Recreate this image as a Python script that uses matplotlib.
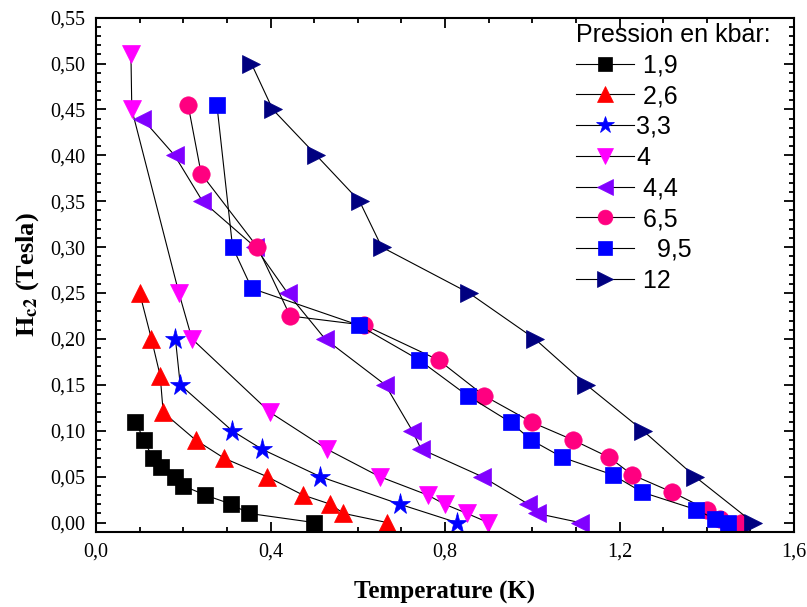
import matplotlib
matplotlib.use("Agg")
import matplotlib.pyplot as plt
import matplotlib.ticker as ticker

# Hc2 vs temperature, one curve per pressure (kbar)
T_19 = [0.09, 0.11, 0.13, 0.15, 0.18, 0.20, 0.25, 0.31, 0.35, 0.50]
H_19 = [0.11, 0.09, 0.07, 0.06, 0.05, 0.04, 0.03, 0.02, 0.01, 0.00]

T_26 = [0.100, 0.127, 0.147, 0.154, 0.228, 0.294, 0.392, 0.474, 0.537, 0.567, 0.667]
H_26 = [0.25, 0.20, 0.16, 0.12, 0.09, 0.07, 0.05, 0.03, 0.02, 0.01, 0.00]

T_33 = [0.182, 0.193, 0.312, 0.380, 0.514, 0.696, 0.827]
H_33 = [0.20, 0.15, 0.10, 0.08, 0.05, 0.02, 0.00]

T_4 = [0.080, 0.082, 0.190, 0.220, 0.399, 0.529, 0.650, 0.760, 0.799, 0.850, 0.899]
H_4 = [0.51, 0.45, 0.25, 0.20, 0.12, 0.08, 0.05, 0.03, 0.02, 0.01, 0.00]

T_44 = [0.106, 0.180, 0.244, 0.365, 0.439, 0.525, 0.663, 0.725, 0.745, 0.885, 0.991, 1.010, 1.109]
H_44 = [0.44, 0.40, 0.35, 0.30, 0.25, 0.20, 0.15, 0.10, 0.08, 0.05, 0.02, 0.01, 0.00]

T_65 = [0.211, 0.241, 0.370, 0.445, 0.615, 0.785, 0.890, 1.000, 1.093, 1.176,
        1.229, 1.321, 1.401, 1.430, 1.478]
H_65 = [0.455, 0.38, 0.30, 0.225, 0.215, 0.177, 0.138, 0.109, 0.090, 0.071,
        0.052, 0.033, 0.014, 0.004, 0.00]

T_95 = [0.277, 0.313, 0.357, 0.602, 0.741, 0.852, 0.951, 0.997, 1.069, 1.184,
        1.252, 1.376, 1.418, 1.449]
H_95 = [0.455, 0.30, 0.255, 0.215, 0.177, 0.138, 0.109, 0.090, 0.071, 0.052,
        0.033, 0.014, 0.004, 0.00]

T_12 = [0.356, 0.405, 0.505, 0.604, 0.655, 0.855, 1.006, 1.124, 1.254, 1.373, 1.506]
H_12 = [0.50, 0.45, 0.40, 0.35, 0.30, 0.25, 0.20, 0.15, 0.10, 0.05, 0.00]

LABELS = [" 1,9", " 2,6", "3,3", "4", " 4,4", " 6,5", "   9,5", " 12"]

SERIES = [
    (T_19, H_19, "s", "#000000", 11.5),
    (T_26, H_26, "^", "#FF0000", 13.5),
    (T_33, H_33, "*", "#0000FF", 15.5),
    (T_4, H_4, "v", "#FF00FF", 13.5),
    (T_44, H_44, "<", "#8000FF", 13.5),
    (T_65, H_65, "o", "#FF0080", 12.5),
    (T_95, H_95, "s", "#0000FF", 11.5),
    (T_12, H_12, ">", "#000080", 13.5),
]

plt.rcParams["mathtext.fontset"] = "stix"

fig = plt.figure(figsize=(8.07, 6.07), dpi=100)
ax = fig.add_axes([0.119, 0.124, 0.865, 0.847])

for (t, h, mk, col, ms), lab in zip(SERIES, LABELS):
    ax.plot(t, h, color="black", linewidth=0.8, marker=mk, markersize=ms,
            markerfacecolor=col, markeredgecolor=col, markeredgewidth=0.5,
            label=lab)

ax.set_xlim(0, 1.6)
ax.set_ylim(-0.01, 0.55)
ax.xaxis.set_major_locator(ticker.MultipleLocator(0.4))
ax.xaxis.set_minor_locator(ticker.MultipleLocator(0.1))
ax.yaxis.set_major_locator(ticker.MultipleLocator(0.05))
ax.yaxis.set_minor_locator(ticker.MultipleLocator(0.01))
ax.xaxis.set_major_formatter(ticker.FuncFormatter(lambda v, _: f"{v:.1f}".replace(".", ",")))
ax.yaxis.set_major_formatter(ticker.FuncFormatter(lambda v, _: f"{v:.2f}".replace(".", ",")))

for s in ax.spines.values():
    s.set_linewidth(1.5)
ax.tick_params(which="both", direction="in", top=True, right=True, width=1.3)
ax.tick_params(which="major", length=7, labelsize=14.5, pad=8)
ax.tick_params(which="minor", length=3.5)
for lbl in ax.get_xticklabels() + ax.get_yticklabels():
    lbl.set_fontfamily("Liberation Serif")

ax.set_xlabel("Temperature (K)", fontsize=18, fontweight="bold",
              family="Liberation Serif", labelpad=14)
ax.set_ylabel(r"$\mathbf{H_{c2}}$ (Tesla)", fontsize=19, fontweight="bold",
              family="Liberation Serif", labelpad=6)

leg = ax.legend(loc="upper left", bbox_to_anchor=(0.684, 0.995), frameon=False,
                title="Pression en kbar:", alignment="left",
                prop={"family": "Liberation Sans", "size": 18},
                title_fontproperties={"family": "Liberation Sans", "size": 18},
                handlelength=2.3, handletextpad=0.1, labelspacing=0.27,
                borderaxespad=0.0, borderpad=0.1, markerscale=0.85)

fig.savefig("out.png", dpi=100)
